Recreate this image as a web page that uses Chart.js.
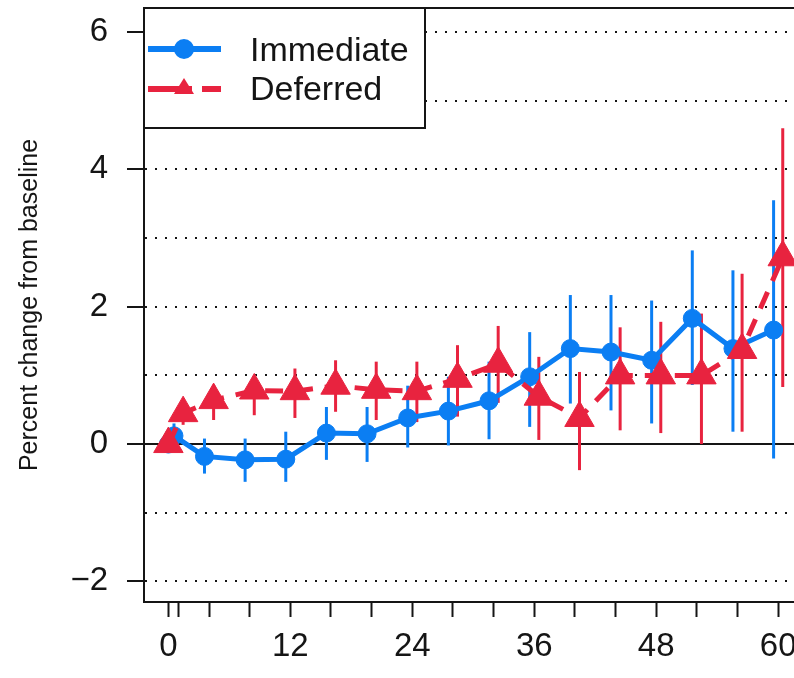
<!DOCTYPE html>
<html>
<head>
<meta charset="utf-8">
<script src="https://cdn.jsdelivr.net/npm/chart.js@4/dist/chart.umd.min.js"></script>
<style>
  html, body { margin: 0; padding: 0; background: #fff; }
  #wrap { width: 794px; height: 678px; overflow: hidden; }
</style>
</head>
<body>
<div id="wrap"><canvas id="myChart" width="840" height="678"></canvas></div>
<script>
// Months since randomisation
var visits = [0, 1, 4, 8, 12, 16, 20, 24, 28, 32, 36, 40, 44, 48, 52, 56, 60];

// Immediate arm: mean and 95% CI
var immediateMean = [0, 0.12, -0.18, -0.23, -0.22, 0.16, 0.15, 0.38, 0.48, 0.63, 0.98, 1.39, 1.34, 1.22, 1.83, 1.39, 1.66];
var immediateLow  = [0, -0.08, -0.43, -0.55, -0.55, -0.23, -0.26, -0.05, -0.02, 0.07, 0.25, 0.59, 0.49, 0.30, 0.86, 0.18, -0.21];
var immediateHigh = [0, 0.30, 0.08, 0.08, 0.18, 0.54, 0.54, 0.85, 0.98, 1.20, 1.63, 2.17, 2.17, 2.09, 2.82, 2.53, 3.55];

// Deferred arm: mean and 95% CI
var deferredMean = [0, 0.45, 0.64, 0.78, 0.77, 0.85, 0.79, 0.77, 0.95, 1.17, 0.69, 0.38, 1.00, 1.00, 1.00, 1.37, 2.72];
var deferredLow  = [0, 0.28, 0.35, 0.42, 0.38, 0.47, 0.35, 0.32, 0.40, 0.60, 0.06, -0.38, 0.20, 0.16, 0.00, 0.18, 0.83];
var deferredHigh = [0, 0.62, 0.86, 0.98, 1.10, 1.22, 1.20, 1.20, 1.44, 1.72, 1.27, 1.05, 1.70, 1.78, 1.90, 2.48, 4.60];

// Axis ticks
var xTicks = [0, 1, 4, 8, 12, 16, 20, 24, 28, 32, 36, 40, 44, 48, 52, 56, 60];
var xLabelEvery = 12;
var yTicks = [-2, -1, 0, 1, 2, 3, 4, 5, 6];

var BLUE = "#0b7ef3";
var RED = "#e8233f";
var INK = "#151515";
var FONT = "'Liberation Sans', Arial, sans-serif";
var DODGE = 0.45; // small horizontal offset so the two arms don't overlap

function points(means, shift) {
  return visits.map(function (v, i) {
    return { x: v + (v === 0 ? 0 : shift), y: means[i] };
  });
}

// vertical CI bars, drawn under the lines
var errorBars = {
  id: "errorBars",
  beforeDatasetsDraw: function (chart) {
    var ctx = chart.ctx;
    var x = chart.scales.x, y = chart.scales.y;
    ctx.save();
    chart.data.datasets.forEach(function (ds) {
      if (!ds.lows) return;
      ctx.strokeStyle = ds.borderColor;
      ctx.lineWidth = 3;
      ds.data.forEach(function (p, i) {
        if (ds.lows[i] === ds.highs[i]) return;
        var px = x.getPixelForValue(p.x);
        ctx.beginPath();
        ctx.moveTo(px, y.getPixelForValue(ds.lows[i]));
        ctx.lineTo(px, y.getPixelForValue(ds.highs[i]));
        ctx.stroke();
      });
    });
    ctx.restore();
  },
};

// top frame line + boxed legend in the top-left corner
var boxLegend = {
  id: "boxLegend",
  afterDraw: function (chart) {
    var ctx = chart.ctx;
    var a = chart.chartArea;
    ctx.save();
    ctx.strokeStyle = INK;
    ctx.lineWidth = 2;
    ctx.beginPath();
    ctx.moveTo(a.left, a.top);
    ctx.lineTo(a.right, a.top);
    ctx.stroke();

    var L = a.left, T = a.top;
    ctx.fillStyle = "#fff";
    ctx.fillRect(L, T, 281, 120);
    ctx.strokeRect(L, T, 281, 120);

    // Immediate
    ctx.strokeStyle = BLUE;
    ctx.lineWidth = 6;
    ctx.beginPath();
    ctx.moveTo(L + 4, T + 41);
    ctx.lineTo(L + 77, T + 41);
    ctx.stroke();
    ctx.fillStyle = BLUE;
    ctx.beginPath();
    ctx.arc(L + 40, T + 41, 10, 0, Math.PI * 2);
    ctx.fill();

    // Deferred
    ctx.strokeStyle = RED;
    ctx.beginPath();
    ctx.moveTo(L + 4, T + 81);
    ctx.lineTo(L + 48, T + 81);
    ctx.moveTo(L + 58, T + 81);
    ctx.lineTo(L + 77, T + 81);
    ctx.stroke();
    ctx.fillStyle = RED;
    ctx.beginPath();
    ctx.moveTo(L + 40, T + 70);
    ctx.lineTo(L + 50, T + 86);
    ctx.lineTo(L + 30, T + 86);
    ctx.closePath();
    ctx.fill();

    ctx.fillStyle = INK;
    ctx.font = "34px " + FONT;
    ctx.textAlign = "left";
    ctx.textBaseline = "alphabetic";
    ctx.fillText("Immediate", L + 106, T + 53);
    ctx.fillText("Deferred", L + 106, T + 92);
    ctx.restore();
  },
};

var ctx = document.getElementById("myChart").getContext("2d");
var myChart = new Chart(ctx, {
  type: "line",
  data: {
    datasets: [
      {
        label: "Immediate",
        data: points(immediateMean, -DODGE),
        lows: immediateLow,
        highs: immediateHigh,
        borderColor: BLUE,
        backgroundColor: BLUE,
        borderWidth: 5,
        pointStyle: "circle",
        pointRadius: 9,
        pointBorderWidth: 1,
        order: 2,
      },
      {
        label: "Deferred",
        data: points(deferredMean, DODGE),
        lows: deferredLow,
        highs: deferredHigh,
        borderColor: RED,
        backgroundColor: RED,
        borderWidth: 5,
        borderDash: [18, 12],
        pointStyle: "triangle",
        pointRadius: 17,
        pointBorderWidth: 1,
        order: 1,
      },
    ],
  },
  options: {
    responsive: false,
    animation: false,
    layout: { autoPadding: false, padding: { top: 8, right: 10, left: 0, bottom: 0 } },
    plugins: {
      legend: { display: false },
      tooltip: { enabled: false },
    },
    scales: {
      x: {
        type: "linear",
        min: -2.4,
        max: 65.1,
        afterBuildTicks: function (scale) {
          scale.ticks = xTicks.map(function (v) { return { value: v }; });
        },
        afterFit: function (scale) {
          scale.height = 76;
          scale.paddingLeft = 0;
          scale.paddingRight = 0;
        },
        ticks: {
          autoSkip: false,
          maxRotation: 0,
          padding: 10,
          color: INK,
          font: { family: FONT, size: 33 },
          callback: function (v) { return v % xLabelEvery === 0 ? String(v) : ""; },
        },
        grid: {
          drawOnChartArea: false,
          tickLength: 15,
          tickColor: INK,
          tickWidth: 2,
        },
        border: { display: true, color: INK, width: 2 },
      },
      y: {
        min: -2.3,
        max: 6.35,
        afterBuildTicks: function (scale) {
          scale.ticks = yTicks.map(function (v) { return { value: v }; });
        },
        afterFit: function (scale) {
          scale.width = 144;
          scale.paddingTop = 0;
          scale.paddingBottom = 0;
        },
        ticks: {
          padding: 19,
          color: INK,
          font: { family: FONT, size: 33 },
          callback: function (v) {
            if (v % 2 !== 0) return "";
            return v < 0 ? "\u2212" + (-v) : String(v);
          },
        },
        grid: {
          color: INK,
          lineWidth: 2,
          tickLength: 17,
          tickWidth: 2,
          tickColor: function (c) {
            return c.tick && c.tick.value % 2 === 0 ? INK : "rgba(0,0,0,0)";
          },
        },
        border: {
          display: true,
          color: INK,
          width: 2,
          dash: function (c) {
            return c.tick && c.tick.value !== 0 ? [2, 8] : [];
          },
        },
        title: {
          display: true,
          text: "Percent change from baseline",
          color: INK,
          font: { family: FONT, size: 25 },
          padding: { top: 15, bottom: 0 },
        },
      },
    },
  },
  plugins: [errorBars, boxLegend],
});
</script>
</body>
</html>
